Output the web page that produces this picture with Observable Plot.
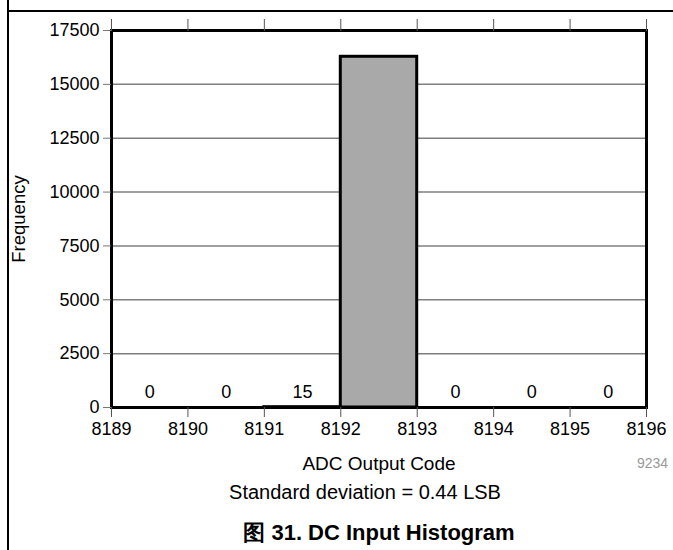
<!DOCTYPE html>
<html>
<head>
<meta charset="utf-8">
<script src="https://cdn.jsdelivr.net/npm/d3@7"></script>
<script src="https://cdn.jsdelivr.net/npm/@observablehq/plot@0.6"></script>
<style>
  html, body { margin: 0; padding: 0; background: white; }
  #page { position: relative; width: 673px; height: 550px; overflow: hidden; background: white;
          font-family: "Liberation Sans", Arial, sans-serif; color: black; }
  .abs { position: absolute; }
</style>
</head>
<body>
<div id="page">
  <div class="abs" style="left:7px;top:0;width:1.5px;height:550px;background:#000"></div>
  <div class="abs" style="left:7px;top:10px;width:666px;height:1.5px;background:#000"></div>
  <div id="chart" class="abs" style="left:0;top:0"></div>
  <div class="abs" style="left:637px;top:455px;font-size:14px;color:#999;white-space:nowrap">9234</div>
  <div class="abs" style="left:0;width:730px;top:481px;text-align:center;font-size:20px;white-space:nowrap">Standard deviation = 0.44 LSB</div>
  <div class="abs" style="left:0;width:758px;top:518px;text-align:center;font-size:22px;font-weight:bold;white-space:nowrap">图 31. DC Input Histogram</div>
</div>
<script>
const codes = [8189, 8190, 8191, 8192, 8193, 8194, 8195];
const counts = [0, 0, 15, 16280, 0, 0, 0];
const countLabels = ["0", "0", "15", "", "0", "0", "0"];
const xTicks = [8189, 8190, 8191, 8192, 8193, 8194, 8195, 8196];
const yTicks = [0, 2500, 5000, 7500, 10000, 12500, 15000, 17500];

const data = codes.map((c, i) => ({x1: c, x2: c + 1, count: counts[i], label: countLabels[i]}));

const chart = Plot.plot({
  width: 673,
  height: 480,
  marginLeft: 111,
  marginRight: 27,
  marginTop: 30,
  marginBottom: 73,
  style: {fontFamily: "'Liberation Sans', Arial, sans-serif", fontSize: "18px", color: "black", background: "transparent", overflow: "visible"},
  x: {domain: [8189, 8196]},
  y: {domain: [0, 17500]},
  marks: [
    Plot.gridY(yTicks, {stroke: "#7f7f7f", strokeOpacity: 1, strokeWidth: 1.5}),
    Plot.rect(data, {x1: "x1", x2: "x2", y1: 0, y2: "count", fill: "#a9a9a9", stroke: "black", strokeWidth: 3}),
    Plot.text(data.filter(d => d.label !== ""), {x: d => (d.x1 + d.x2) / 2, y: 0, dy: -15, text: "label", fontSize: 18, fill: "black", lineAnchor: "middle"}),
    Plot.frame({stroke: "black", strokeWidth: 3}),
    Plot.axisX({ticks: xTicks, tickFormat: "d", tickSize: 10, tickPadding: 5, stroke: "#555", fill: "black", label: null}),
    Plot.axisX({ticks: [], label: "ADC Output Code", labelAnchor: "center", labelOffset: 62, labelArrow: "none", fontSize: 19, fill: "black"}),
    Plot.axisX({anchor: "top", ticks: xTicks, tickFormat: () => "", tickSize: 12, stroke: "#555", label: null}),
    Plot.axisY({ticks: yTicks, tickFormat: "d", tickSize: 8, tickPadding: 4, stroke: "#777", fill: "black", label: null}),
    Plot.axisY({ticks: [], label: "Frequency", labelAnchor: "center", labelOffset: 100, labelArrow: "none", fontSize: 18.5, fill: "black"})
  ]
});
document.getElementById("chart").appendChild(chart);
</script>
</body>
</html>
